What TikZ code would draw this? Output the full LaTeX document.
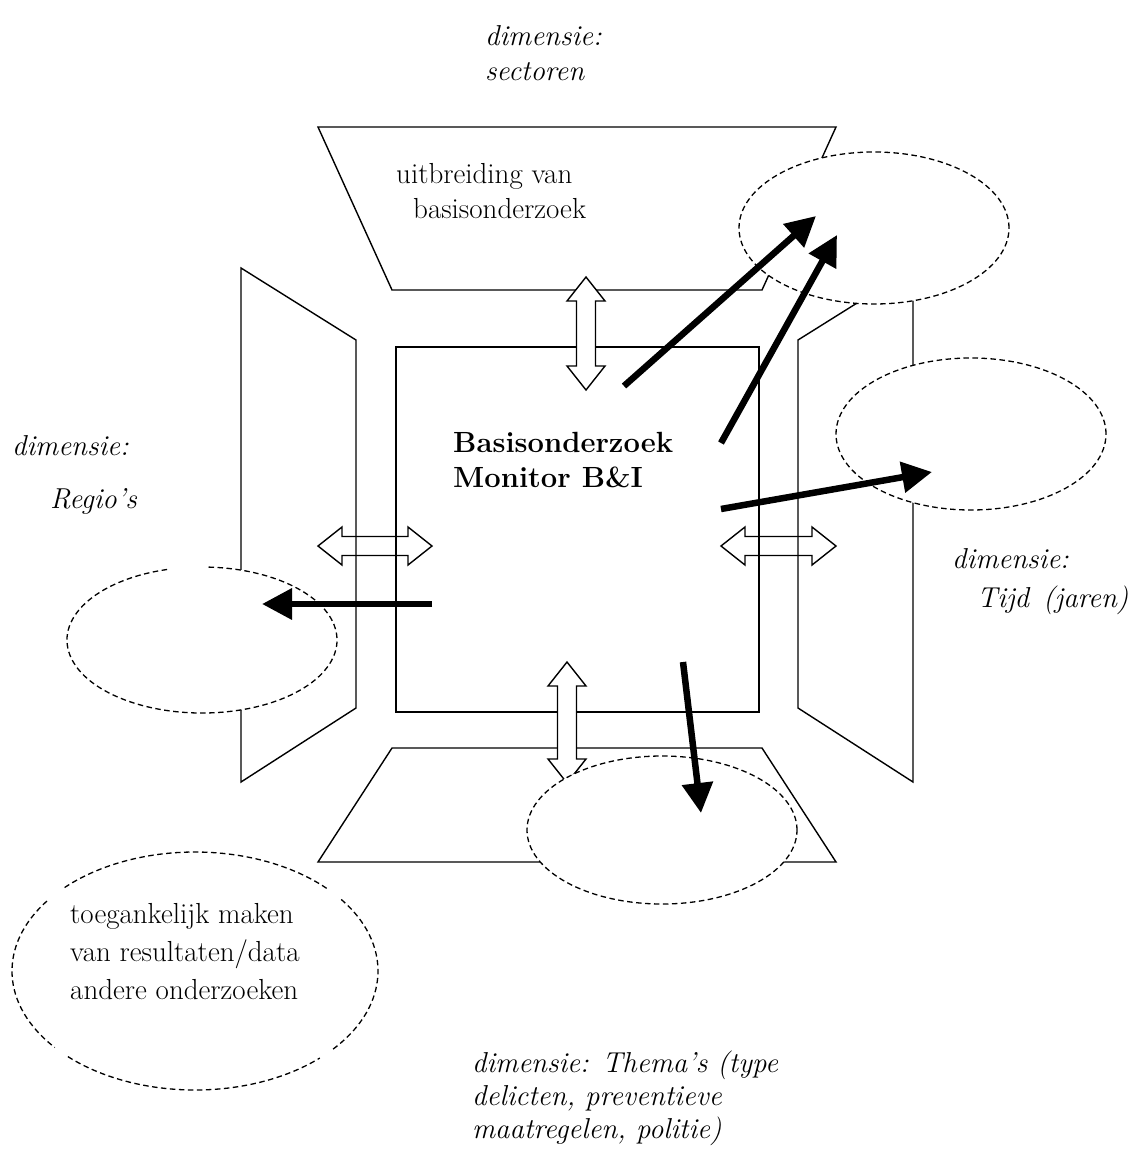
\documentclass[tikz,border=0pt]{standalone}
\usetikzlibrary{arrows.meta}
\begin{document}
\begin{tikzpicture}[x=1pt,y=-1pt,
  lin/.style={line width=1.4pt, line join=miter},
  dbl/.style={line width=1.4pt, line join=miter},
  dblfill/.style={dbl, fill=white},
  ell/.style={dash pattern=on 5.5pt off 3.5pt, line width=1.3pt},
  fat/.style={line width=6.5pt, -{Triangle[length=30pt,width=30pt]}},
  reg/.style={font=\fontsize{29}{32}\selectfont, inner sep=0pt, anchor=base west},
  ita/.style={font=\fontsize{28.8}{32}\selectfont\itshape, inner sep=0pt, anchor=base west},
  bld/.style={font=\fontsize{29.2}{32}\selectfont\bfseries, inner sep=0pt, anchor=base west}
]
\useasboundingbox (0,0) rectangle (1147,1151);

% horizontal double arrows (lines show through)
\draw[dbl] (318,546) -- (342,527) -- (342,536.5) -- (408,536.5) -- (408,527) -- (432,546)
  -- (408,565) -- (408,555.5) -- (342,555.5) -- (342,565) -- cycle;
\draw[dbl] (721,546) -- (745,527) -- (745,536.5) -- (812,536.5) -- (812,527) -- (836,546)
  -- (812,565) -- (812,555.5) -- (745,555.5) -- (745,565) -- cycle;

% frame shapes
\draw[lin] (318,127) -- (836,127) -- (762,290) -- (392,290) -- cycle;
\draw[lin] (392,748) -- (762,748) -- (836,862) -- (318,862) -- cycle;
\draw[lin] (241,268) -- (356,340) -- (356,708) -- (241,782) -- cycle;
\draw[lin] (913,268) -- (798,340) -- (798,708) -- (913,782) -- cycle;
\draw[lin] (396,347) rectangle (759,712);

% vertical double arrows (white filled)
\draw[dblfill] (586,277) -- (605,301) -- (595.5,301) -- (595.5,366) -- (605,366) -- (586,390)
  -- (567,366) -- (576.5,366) -- (576.5,301) -- (567,301) -- cycle;
\draw[dblfill] (567,662) -- (586,686) -- (576.5,686) -- (576.5,759) -- (586,759) -- (567,783)
  -- (548,759) -- (557.5,759) -- (557.5,686) -- (548,686) -- cycle;

% dashed ellipses
\coordinate (eTR) at (874,228);
\coordinate (eR)  at (971,434);
\coordinate (eL)  at (202,640);
\coordinate (eB)  at (662,830);
\coordinate (eBL) at (195,971);
\fill[white] (eTR) ellipse [x radius=135pt, y radius=76pt];
\draw[ell] (eTR) ellipse [x radius=135pt, y radius=76pt];
\fill[white] (eR) ellipse [x radius=135pt, y radius=76pt];
\draw[ell] (eR) ellipse [x radius=135pt, y radius=76pt];
\fill[white] (eB) ellipse [x radius=135pt, y radius=74pt];
\draw[ell] (eB) ellipse [x radius=135pt, y radius=74pt];
\fill[white] (eL) ellipse [x radius=135pt, y radius=73pt];
\draw[ell] (eL) ++(105:135pt and 73pt) arc[start angle=105, end angle=448, x radius=135pt, y radius=73pt];
\draw[ell] (eBL) ++(44:183pt and 119pt) arc[start angle=44, end angle=136, x radius=183pt, y radius=119pt];
\draw[ell] (eBL) ++(144:183pt and 119pt) arc[start angle=144, end angle=220, x radius=183pt, y radius=119pt];
\draw[ell] (eBL) ++(226:183pt and 119pt) arc[start angle=226, end angle=313, x radius=183pt, y radius=119pt];
\draw[ell] (eBL) ++(319:183pt and 119pt) arc[start angle=319, end angle=398, x radius=183pt, y radius=119pt];

% thick arrows
\coordinate (a1s) at (624,386); \coordinate (a1e) at (816,216);
\coordinate (a2s) at (721,443); \coordinate (a2e) at (837,235);
\coordinate (a3s) at (721,509); \coordinate (a3e) at (932,472);
\coordinate (a4s) at (432,604); \coordinate (a4e) at (262,604);
\coordinate (a5s) at (683,662); \coordinate (a5e) at (701,813);
\draw[fat] (a1s) -- (a1e);
\draw[fat] (a2s) -- (a2e);
\draw[fat] (a3s) -- (a3e);
\draw[fat] (a4s) -- (a4e);
\draw[fat] (a5s) -- (a5e);

% texts
\node[ita] (t1) at (485,45) {dimensie:};
\node[ita] (t2) at (485,80) {sectoren};
\node[reg] (u1) at (396,183) {uitbreiding van};
\node[reg] (u2) at (413,218) {basisonderzoek};
\node[bld] (b1) at (453,452) {Basisonderzoek};
\node[bld] (b2) at (453,487) {Monitor B\&I};
\node[ita] (l1) at (12,455) {dimensie:};
\node[ita] (l2) at (50,508) {Regio's};
\node[ita] (r1) at (952,568) {dimensie:};
\node[ita] (r2) at (977,607) {Tijd\hspace{4pt} (jaren)};
\node[ita] (d1) at (472,1072) {dimensie: Thema's (type};
\node[ita] (d2) at (472,1105) {delicten, preventieve};
\node[ita] (d3) at (472,1138) {maatregelen, politie)};
\node[reg] (g1) at (70,923) {toegankelijk maken};
\node[reg] (g2) at (70,961) {van resultaten/data};
\node[reg] (g3) at (70,999) {andere onderzoeken};
\end{tikzpicture}
\end{document}
